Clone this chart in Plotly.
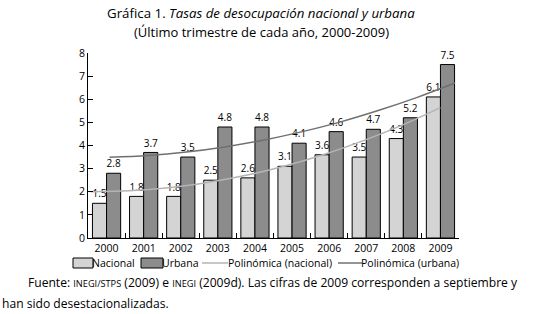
import numpy as np
import plotly.graph_objects as go

# ---------------- data ----------------
years = ["2000", "2001", "2002", "2003", "2004", "2005", "2006", "2007", "2008", "2009"]
nacional = [1.5, 1.8, 1.8, 2.5, 2.6, 3.1, 3.6, 3.5, 4.3, 6.1]
urbana = [2.8, 3.7, 3.5, 4.8, 4.8, 4.1, 4.6, 4.7, 5.2, 7.5]
# trend lines (10 evenly spaced points each)
poly_nacional = [2.00, 2.04, 2.17, 2.40, 2.71, 3.11, 3.61, 4.20, 4.87, 5.64]
poly_urbana = [3.49, 3.57, 3.72, 3.94, 4.23, 4.59, 5.01, 5.51, 6.07, 6.70]
y_ticks = [0, 1, 2, 3, 4, 5, 6, 7, 8]
legend_labels = ["Nacional", "Urbana", "Polinómica (nacional)", "Polinómica (urbana)"]

# ---------------- style ----------------
W, H = 548, 314
L, R, T, B = 88, 89, 53, 76
PW, PH = W - L - R, H - T - B
FONT = "Open Sans"
C_NAC = "#d4d4d4"
C_URB = "#8c8c8c"
C_PNAC = "#b4b4b4"
C_PURB = "#707070"


def px(x):
    return (x - L) / PW


def py(y):
    return (H - B - y) / PH


fig = go.Figure()
fig.add_trace(go.Bar(x=years, y=nacional, name=legend_labels[0], marker=dict(color=C_NAC, line=dict(color="black", width=1)),
                     text=[f"{v:.1f}" for v in nacional], textposition="outside", cliponaxis=False,
                     textfont=dict(size=10.5, color="black", family=FONT), showlegend=False))
fig.add_trace(go.Bar(x=years, y=urbana, name=legend_labels[1], marker=dict(color=C_URB, line=dict(color="black", width=1)),
                     text=[f"{v:.1f}" for v in urbana], textposition="outside", cliponaxis=False,
                     textfont=dict(size=10.5, color="black", family=FONT), showlegend=False))

# trend line x positions (category index units on overlay axis)
xn = np.linspace(-0.43, 9.0, len(poly_nacional))
xu = np.linspace(0.08, 9.39, len(poly_urbana))
fig.add_trace(go.Scatter(x=xn, y=poly_nacional, mode="lines", line=dict(color=C_PNAC, width=1.5, shape="spline"),
                         xaxis="x2", yaxis="y", showlegend=False, name=legend_labels[2]))
fig.add_trace(go.Scatter(x=xu, y=poly_urbana, mode="lines", line=dict(color=C_PURB, width=1.5, shape="spline"),
                         xaxis="x2", yaxis="y", showlegend=False, name=legend_labels[3]))

fig.update_layout(
    width=W, height=H, margin=dict(l=L, r=R, t=T, b=B),
    paper_bgcolor="white", plot_bgcolor="white",
    barmode="group", bargap=0.24, bargroupgap=0.0,
    font=dict(family=FONT, size=10.5, color="black"),
    xaxis=dict(type="category", categoryorder="array", categoryarray=years, range=[-0.5, 9.5],
               showline=True, linecolor="black", linewidth=1, ticks="inside", ticklen=5, tickcolor="black",
               tickson="boundaries", showgrid=False, tickfont=dict(size=10.5), fixedrange=True),
    xaxis2=dict(overlaying="x", range=[-0.5, 9.5], visible=False, fixedrange=True),
    yaxis=dict(range=[0, 8], tickvals=y_ticks, showline=True, linecolor="black", linewidth=1,
               ticks="inside", ticklen=5, tickcolor="black", showgrid=False, zeroline=False,
               tickfont=dict(size=10.5), fixedrange=True),
    showlegend=False,
)

# titles
fig.add_annotation(x=px(261), y=py(13), xref="paper", yref="paper", showarrow=False, xanchor="center", yanchor="middle",
                   text="Gráfica 1. <i>Tasas de desocupación nacional y urbana</i>", font=dict(size=13.3, family=FONT))
fig.add_annotation(x=px(261), y=py(32), xref="paper", yref="paper", showarrow=False, xanchor="center", yanchor="middle",
                   text="(Último trimestre de cada año, 2000-2009)", font=dict(size=13, family=FONT))

# legend (manual)
lg_y = 263
fig.add_shape(type="rect", xref="paper", yref="paper", x0=px(73), x1=px(93), y0=py(268), y1=py(258),
              fillcolor=C_NAC, line=dict(color="black", width=1))
fig.add_annotation(x=px(93), y=py(lg_y), xref="paper", yref="paper", showarrow=False, xanchor="left", yanchor="middle",
                   text=legend_labels[0], font=dict(size=10.5, family=FONT), xshift=-3)
fig.add_shape(type="rect", xref="paper", yref="paper", x0=px(141), x1=px(163), y0=py(268), y1=py(258),
              fillcolor=C_URB, line=dict(color="black", width=1))
fig.add_annotation(x=px(163), y=py(lg_y), xref="paper", yref="paper", showarrow=False, xanchor="left", yanchor="middle",
                   text=legend_labels[1], font=dict(size=10.5, family=FONT), xshift=-3)
fig.add_shape(type="line", xref="paper", yref="paper", x0=px(202), x1=px(228), y0=py(lg_y), y1=py(lg_y),
              line=dict(color=C_PNAC, width=1.5))
fig.add_annotation(x=px(229), y=py(lg_y), xref="paper", yref="paper", showarrow=False, xanchor="left", yanchor="middle",
                   text=legend_labels[2], font=dict(size=10.5, family=FONT), xshift=-3)
fig.add_shape(type="line", xref="paper", yref="paper", x0=px(338), x1=px(362), y0=py(lg_y), y1=py(lg_y),
              line=dict(color=C_PURB, width=1.5))
fig.add_annotation(x=px(362), y=py(lg_y), xref="paper", yref="paper", showarrow=False, xanchor="left", yanchor="middle",
                   text=legend_labels[3], font=dict(size=10.5, family=FONT), xshift=-3)

# footer
sc = '<span style="font-size:9.2px">'
fig.add_annotation(x=px(28), y=py(282), xref="paper", yref="paper", showarrow=False, xanchor="left", yanchor="middle",
                   text=f"Fuente: {sc}INEGI/STPS</span> (2009) e {sc}INEGI</span> (2009d). Las cifras de 2009 corresponden a septiembre y",
                   font=dict(size=12.1, family=FONT), xshift=-2)
fig.add_annotation(x=px(2), y=py(303), xref="paper", yref="paper", showarrow=False, xanchor="left", yanchor="middle",
                   text="han sido desestacionalizadas.", font=dict(size=12.1, family=FONT), xshift=-2)

fig.write_html("out.html", post_script="document.body.style.margin='0px';",
               config={"displayModeBar": False})
